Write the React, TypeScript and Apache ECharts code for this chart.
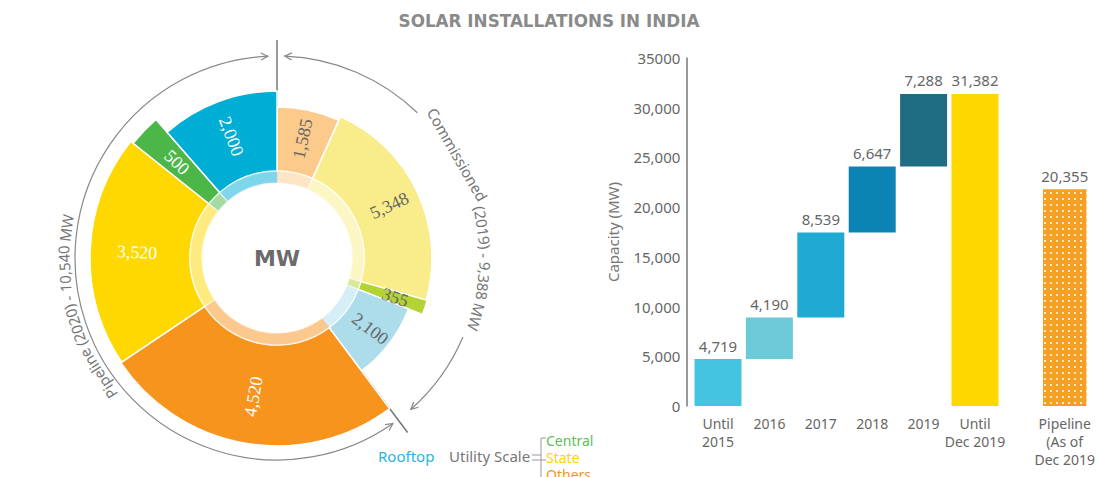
import React, { useEffect, useRef } from 'react';
import * as echarts from 'echarts';

// ---------- Donut data ----------
const commissionedValues = [1585, 5348, 355, 2100];
const commissionedLabels = ['1,585', '5,348', '355', '2,100'];
const commissionedColors = ['#FCCB8B', '#F9ED8B', '#B3D234', '#ADDDEB'];
const commissionedLabelColors = ['#666666', '#666666', '#666666', '#666666'];
const commissionedRadii = [151, 155, 156, 141];

const pipelineValues = [4520, 3520, 500, 2000];
const pipelineLabels = ['4,520', '3,520', '500', '2,000'];
const pipelineColors = ['#F7941E', '#FED800', '#4CB748', '#00AED5'];
const pipelineLabelColors = ['#ffffff', '#ffffff', '#ffffff', '#ffffff'];
const pipelineRadii = [188, 187, 184, 167];

const commissionedTitle = 'Commissioned (2019) - 9,388 MW';
const pipelineTitle = 'Pipeline (2020) - 10,540 MW';
const centerText = 'MW';

// ---------- Waterfall data ----------
const barCategories = ['Until\n2015', '2016', '2017', '2018', '2019', 'Until\nDec 2019'];
const yearlyAdditions = [4719, 4190, 8539, 6647, 7288];
const totalUntilDec2019 = 31382;
const barValueLabels = ['4,719', '4,190', '8,539', '6,647', '7,288', '31,382'];
const barColors = ['#45C4E2', '#6CCAD8', '#1FA9D3', '#0B84B4', '#1E6D82', '#FFD800'];
const pipelineCategory = ['Pipeline\n(As of\nDec 2019'];
const pipelineBarValue = [21800];
const pipelineBarLabel = ['20,355'];
const yTickLabels = ['0', '5,000', '10,000', '15,000', '20,000', '25,000', '30,000', '35000'];

const legendItems = [
  { text: 'Central', color: '#5EBD5A' },
  { text: 'State', color: '#FFD400' },
  { text: 'Others', color: '#F7941E' },
];

// ---------- geometry ----------
const CX = 277;
const CY = 258;
const R_IN = 75;
const R_RING = 87;
const COMMISSIONED_SPAN = 143.2; // degrees clockwise from top
const SANS = '"Noto Sans", sans-serif';

const rad = (d: number) => (d * Math.PI) / 180;
const pt = (theta: number, r: number): [number, number] => [
  CX + r * Math.sin(rad(theta)),
  CY - r * Math.cos(rad(theta)),
];

function arrowHead(theta: number, r: number, dir: [number, number]) {
  const [x, y] = pt(theta, r);
  const nx = -dir[1];
  const ny = dir[0];
  const L = 7;
  const W = 3.5;
  return {
    type: 'polyline',
    silent: true,
    shape: {
      points: [
        [x - dir[0] * L + nx * W, y - dir[1] * L + ny * W],
        [x, y],
        [x - dir[0] * L - nx * W, y - dir[1] * L - ny * W],
      ],
    },
    style: { stroke: '#888', lineWidth: 1.2, fill: null },
  };
}

function arcEl(t0: number, t1: number, r: number) {
  return {
    type: 'arc',
    silent: true,
    shape: { cx: CX, cy: CY, r, startAngle: rad(t0 - 90), endAngle: rad(t1 - 90), clockwise: true },
    style: { stroke: '#888', lineWidth: 1.2, fill: null },
  };
}

function curvedWords(text: string, r: number, centerTheta: number, size: number) {
  const canvas = document.createElement('canvas');
  const ctx = canvas.getContext('2d')!;
  ctx.font = `${size}px "Noto Sans"`;
  const m = (s: string) => ctx.measureText(s).width;
  const total = m(text);
  const sp = m(' ');
  const words = text.split(' ');
  let cursor = -total / 2;
  const els: any[] = [];
  words.forEach((w) => {
    const ww = m(w);
    const mid = cursor + ww / 2;
    const theta = centerTheta + (mid / r) * (180 / Math.PI);
    const [x, y] = pt(theta, r);
    els.push({
      type: 'text',
      silent: true,
      x,
      y,
      rotation: -rad(theta),
      style: {
        text: w,
        fill: '#777',
        font: `${size}px "Noto Sans"`,
        align: 'center',
        verticalAlign: 'middle',
      },
    });
    cursor += ww + sp;
  });
  return els;
}

function halfSeries(
  values: number[],
  labels: string[],
  colors: string[],
  labelColors: string[],
  radii: number[],
  start: number,
  end: number
) {
  const out: any[] = [];
  values.forEach((_, i) => {
    out.push({
      type: 'pie',
      silent: true,
      center: [CX, CY],
      radius: [R_RING, radii[i]],
      startAngle: start,
      endAngle: end,
      clockwise: true,
      labelLine: { show: false },
      data: values.map((v, j) => ({
        value: v,
        name: labels[j],
        itemStyle:
          j === i
            ? { color: colors[j], borderColor: '#ffffff', borderWidth: 1.5 }
            : { color: 'rgba(0,0,0,0)', borderWidth: 0 },
        label:
          j === i
            ? {
                show: true,
                position: 'inside',
                rotate: 'radial',
                color: labelColors[j],
                fontFamily: '"Liberation Serif", serif',
                fontSize: 18,
                formatter: labels[j],
              }
            : { show: false },
      })),
    });
  });
  out.push({
    type: 'pie',
    silent: true,
    center: [CX, CY],
    radius: [R_IN, R_RING],
    startAngle: start,
    endAngle: end,
    clockwise: true,
    label: { show: false },
    labelLine: { show: false },
    data: values.map((v, j) => ({
      value: v,
      itemStyle: { color: colors[j], opacity: 0.5, borderColor: '#ffffff', borderWidth: 1.5 },
    })),
  });
  return out;
}

export default function App() {
  const ref = useRef<HTMLDivElement>(null);

  useEffect(() => {
    if (!ref.current) return;
    const chart = echarts.init(ref.current, null, { renderer: 'svg' });

    const bases: number[] = [];
    let acc = 0;
    yearlyAdditions.forEach((v) => {
      bases.push(acc);
      acc += v;
    });
    bases.push(0);
    const visible = [...yearlyAdditions, totalUntilDec2019];

    const split = 90 - COMMISSIONED_SPAN;
    const donut = [
      ...halfSeries(commissionedValues, commissionedLabels, commissionedColors, commissionedLabelColors, commissionedRadii, 90, split),
      ...halfSeries(pipelineValues, pipelineLabels, pipelineColors, pipelineLabelColors, pipelineRadii, split, -270),
    ];

    const ARC_R = 202;
    const tClock = (t: number): [number, number] => [Math.cos(rad(t)), Math.sin(rad(t))];
    const neg = (v: [number, number]): [number, number] => [-v[0], -v[1]];

    const [dx0, dy0] = pt(COMMISSIONED_SPAN, 76);
    const [dx1, dy1] = pt(COMMISSIONED_SPAN, 218);

    const graphics: any[] = [
      // separators
      { type: 'line', silent: true, shape: { x1: CX, y1: CY - 218, x2: CX, y2: CY - R_IN }, style: { stroke: '#777', lineWidth: 1.5 } },
      { type: 'line', silent: true, shape: { x1: dx0, y1: dy0, x2: dx1, y2: dy1 }, style: { stroke: '#777', lineWidth: 1.5 } },
      // pipeline arc (left)
      arcEl(145, 357.4, ARC_R),
      arrowHead(357.4, ARC_R, tClock(357.4)),
      arrowHead(145, ARC_R, neg(tClock(145))),
      // commissioned arc (right)
      arcEl(2.2, 44, ARC_R),
      arcEl(113, 138.5, ARC_R),
      arrowHead(2.2, ARC_R, neg(tClock(2.2))),
      arrowHead(138.5, ARC_R, tClock(138.5)),
      ...curvedWords(commissionedTitle, 208, 78, 15),
      ...curvedWords(pipelineTitle, 213, 255.7, 15),
      {
        type: 'text',
        silent: true,
        x: CX,
        y: CY,
        style: { text: centerText, fill: '#6b6b6b', font: 'bold 22px "DejaVu Sans"', align: 'center', verticalAlign: 'middle' },
      },
      // legend
      { type: 'text', silent: true, x: 378, y: 456, style: { text: 'Rooftop', fill: '#27B5DE', font: `15px ${SANS}`, verticalAlign: 'middle' } },
      { type: 'text', silent: true, x: 449, y: 456, style: { text: 'Utility Scale', fill: '#777', font: `15px ${SANS}`, verticalAlign: 'middle' } },
      { type: 'line', silent: true, shape: { x1: 532, y1: 455, x2: 541, y2: 455 }, style: { stroke: '#999', lineWidth: 1 } },
      { type: 'line', silent: true, shape: { x1: 532, y1: 460, x2: 546, y2: 460 }, style: { stroke: '#999', lineWidth: 1 } },
      { type: 'line', silent: true, shape: { x1: 541, y1: 438, x2: 541, y2: 480 }, style: { stroke: '#999', lineWidth: 1 } },
      { type: 'line', silent: true, shape: { x1: 541, y1: 438, x2: 546, y2: 438 }, style: { stroke: '#999', lineWidth: 1 } },
      ...legendItems.map((it, i) => ({
        type: 'text',
        silent: true,
        x: 546,
        y: 440 + i * 17,
        style: { text: it.text, fill: it.color, font: `14px ${SANS}`, verticalAlign: 'middle' },
      })),
    ];

    const axisLabelStyle = {
      color: '#666',
      fontSize: 14,
      fontFamily: SANS,
      lineHeight: 18,
      margin: 8,
      interval: 0,
    };

    chart.setOption({
      animation: false,
      title: {
        text: 'SOLAR INSTALLATIONS IN INDIA',
        left: 'center',
        top: 7,
        textStyle: { color: '#8a8a8a', fontSize: 16.8, fontWeight: 900, fontFamily: '"DejaVu Sans"' },
      },
      grid: [
        { left: 692.3, width: 308.4, top: 58, height: 348 },
        { left: 1043, width: 54, top: 58, height: 348 },
      ],
      xAxis: [
        { gridIndex: 0, type: 'category', data: barCategories, axisLine: { show: false }, axisTick: { show: false }, axisLabel: axisLabelStyle },
        { gridIndex: 1, type: 'category', data: pipelineCategory, axisLine: { show: false }, axisTick: { show: false }, axisLabel: axisLabelStyle },
      ],
      yAxis: [
        {
          gridIndex: 0,
          type: 'value',
          min: 0,
          max: 35000,
          interval: 5000,
          offset: 6,
          axisLine: { show: true, lineStyle: { color: '#777', width: 1.5 } },
          axisTick: { show: false },
          splitLine: { show: false },
          axisLabel: {
            color: '#666',
            fontSize: 15,
            fontFamily: SANS,
            margin: 6,
            formatter: (v: number) => yTickLabels[Math.round(v / 5000)],
          },
          name: 'Capacity (MW)',
          nameLocation: 'middle',
          nameGap: 66,
          nameTextStyle: { color: '#777', fontSize: 15, fontFamily: SANS },
        },
        { gridIndex: 1, type: 'value', min: 0, max: 35000, interval: 5000, show: false },
      ],
      series: [
        ...donut,
        {
          type: 'bar',
          xAxisIndex: 0,
          yAxisIndex: 0,
          stack: 'w',
          silent: true,
          barWidth: 47,
          itemStyle: { color: 'rgba(0,0,0,0)' },
          data: bases,
        },
        {
          type: 'bar',
          xAxisIndex: 0,
          yAxisIndex: 0,
          stack: 'w',
          silent: true,
          barWidth: 47,
          data: visible.map((v, i) => ({ value: v, itemStyle: { color: barColors[i] } })),
          label: {
            show: true,
            position: 'top',
            distance: 6,
            color: '#666',
            fontSize: 15,
            fontFamily: SANS,
            formatter: (p: any) => barValueLabels[p.dataIndex],
          },
        },
        {
          type: 'bar',
          xAxisIndex: 1,
          yAxisIndex: 1,
          silent: true,
          barWidth: 47,
          data: pipelineBarValue,
          itemStyle: {
            color: '#F4A024',
            decal: {
              symbol: 'rect',
              symbolSize: 1,
              color: 'rgba(255,255,255,0.75)',
              dashArrayX: [1.5, 3.3],
              dashArrayY: [1.5, 3.3],
              rotation: 0,
            },
          },
          label: {
            show: true,
            position: 'top',
            distance: 6,
            color: '#666',
            fontSize: 15,
            fontFamily: SANS,
            formatter: (p: any) => pipelineBarLabel[p.dataIndex],
          },
        },
      ],
      graphic: graphics,
    });

    return () => chart.dispose();
  }, []);

  return (
    <div
      ref={ref}
      style={{ position: 'fixed', left: 0, top: 0, width: '1098px', height: '477px', background: '#ffffff' }}
    />
  );
}
